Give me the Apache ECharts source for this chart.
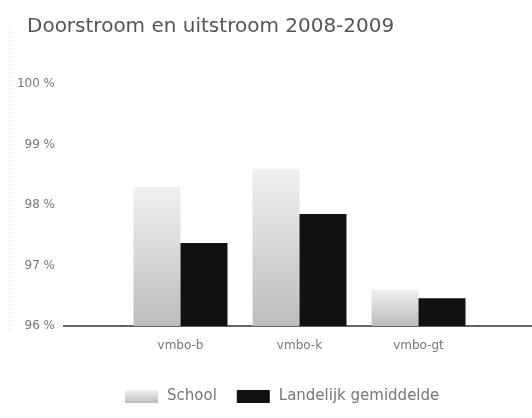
<!DOCTYPE html>
<html>
<head>
<meta charset="utf-8">
<script src="https://cdn.jsdelivr.net/npm/echarts@6/dist/echarts.min.js"></script>
<style>
  html, body { margin: 0; padding: 0; background: #fff; }
  #chart { width: 532px; height: 418px; }
</style>
</head>
<body>
<div id="chart"></div>
<script>
// categorieen en waarden
var categories = ['vmbo-b', 'vmbo-k', 'vmbo-gt'];
var schoolData = [98.3, 98.6, 96.6];
var landelijkData = [97.37, 97.85, 96.46];
var yTicks = [96, 97, 98, 99, 100];

var chart = echarts.init(document.getElementById('chart'));

var option = {
  animation: false,
  backgroundColor: '#fff',
  textStyle: { fontFamily: 'DejaVu Sans, Verdana, sans-serif' },
  title: {
    text: 'Doorstroom en uitstroom 2008-2009',
    left: 22,
    top: 12,
    textStyle: { fontSize: 20, fontWeight: 'normal', color: '#555', fontFamily: 'DejaVu Sans' }
  },
  legend: {
    left: 120,
    top: 384,
    itemWidth: 33,
    itemHeight: 13,
    itemGap: 20,
    icon: 'rect',
    textStyle: { fontSize: 15, color: '#777', padding: [0, 0, 0, 4] },
    data: ['School', 'Landelijk gemiddelde']
  },
  grid: { left: 121, right: 54, top: 84, bottom: 92 },
  xAxis: {
    type: 'category',
    data: categories,
    axisLine: { lineStyle: { color: '#333', width: 1.5 } },
    axisTick: { show: false },
    axisLabel: { color: '#777', fontSize: 12, margin: 14 }
  },
  yAxis: {
    type: 'value',
    min: yTicks[0],
    max: yTicks[yTicks.length - 1],
    interval: 1,
    axisLine: { show: false },
    axisTick: { show: false },
    splitLine: { show: false },
    axisLabel: {
      color: '#777',
      fontSize: 12,
      margin: 66,
      formatter: function (v) { return v + ' %'; }
    }
  },
  series: [
    {
      name: 'School',
      type: 'bar',
      data: schoolData,
      barWidth: 47,
      barGap: '0%',
      itemStyle: {
        color: new echarts.graphic.LinearGradient(0, 0, 0, 1, [
          { offset: 0, color: '#f0f0f0' },
          { offset: 1, color: '#bdbdbd' }
        ])
      }
    },
    {
      name: 'Landelijk gemiddelde',
      type: 'bar',
      data: landelijkData,
      barWidth: 47,
      itemStyle: { color: '#111' }
    }
  ],
  graphic: [
    // doorgetrokken basislijn links en rechts van het grid
    { type: 'line', shape: { x1: 63, y1: 326, x2: 121, y2: 326 }, style: { stroke: '#333', lineWidth: 1.5 } },
    { type: 'line', shape: { x1: 478, y1: 326, x2: 532, y2: 326 }, style: { stroke: '#333', lineWidth: 1.5 } },
    // vage stippellijn links
    { type: 'line', shape: { x1: 10, y1: 28, x2: 10, y2: 330 }, style: { stroke: '#ccc', lineWidth: 1, lineDash: [1, 3] } }
  ]
};

chart.setOption(option);
</script>
</body>
</html>
